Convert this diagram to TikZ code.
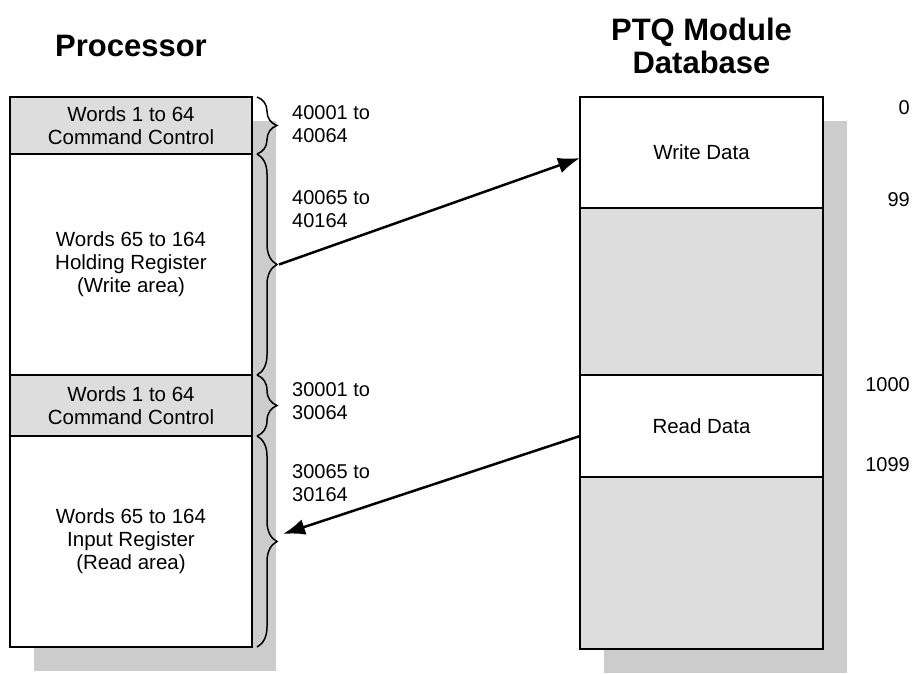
\documentclass[tikz,border=0pt]{standalone}
\usepackage{fontspec}
\setmainfont{Liberation Sans}
\usepackage{tikz}
\usetikzlibrary{positioning, arrows.meta, decorations.pathreplacing, backgrounds}

\definecolor{cellgray}{HTML}{DDDDDD}
\definecolor{shadegray}{HTML}{CCCCCC}

\tikzset{
    cell/.style={rectangle, draw, fill=white, line width=2.5pt, minimum width=242pt, outer sep=0pt, inner sep=0pt, align=center, font=\fontsize{20.5}{23}\selectfont},
    title/.style={align=center, font=\bfseries\fontsize{31}{33}\selectfont},
    addr/.style={align=left, anchor=west, inner sep=0pt, font=\fontsize{20}{23}\selectfont},
    brace/.style={decorate, decoration={brace, amplitude=20pt}, line width=1.5pt},
    link/.style={-{Latex[length=22pt,width=16pt]}, line width=2.5pt}
}

\begin{document}
\begin{tikzpicture}[x=1pt, y=1pt, node distance=0pt]
    \useasboundingbox (0,0) rectangle (915,673);

    % processor side
    \node [cell, fill=cellgray, minimum height=57pt] (cmd1) at (131,547.5) {Words 1 to 64\\Command Control};
    \node [cell, minimum height=221pt, below=of cmd1] (hold) {Words 65 to 164\\Holding Register\\(Write area)};
    \node [cell, fill=cellgray, minimum height=61pt, below=of hold] (cmd2) {Words 1 to 64\\Command Control};
    \node [cell, minimum height=211pt, below=of cmd2] (inp) {Words 65 to 164\\Input Register\\(Read area)};

    % module database side
    \node [cell, minimum width=243pt, minimum height=111pt] (wr) at (701.5,520.5) {Write Data};
    \node [cell, fill=cellgray, minimum width=243pt, minimum height=167pt, below=of wr] (gap1) {};
    \node [cell, minimum width=243pt, minimum height=102pt, below=of gap1] (rd) {Read Data};
    \node [cell, fill=cellgray, minimum width=243pt, minimum height=172pt, below=of rd] (gap2) {};

    \begin{scope}[on background layer]
        \fill [shadegray] ([shift={(24pt,-24pt)}]cmd1.north west) rectangle ([shift={(24pt,-24pt)}]inp.south east);
        \fill [shadegray] ([shift={(24pt,-24pt)}]wr.north west) rectangle ([shift={(24pt,-24pt)}]gap2.south east);
    \end{scope}

    \node [title] (proc) at ([yshift=51pt]cmd1.north) {Processor};
    \node [title] (ptq) at ([yshift=51pt]wr.north) {PTQ Module\\Database};

    % braces and register addresses
    \foreach \c in {cmd1, hold, cmd2, inp}
        \draw [brace] ([xshift=5pt]\c.north east) -- ([xshift=5pt]\c.south east);

    \node [addr] (a1) at ([xshift=40pt,yshift=1.5pt]cmd1.east) {40001 to\\40064};
    \node [addr] (a2) at ([xshift=40pt,yshift=55pt]hold.east) {40065 to\\40164};
    \node [addr] (a3) at ([xshift=40pt,yshift=4pt]cmd2.east) {30001 to\\30064};
    \node [addr] (a4) at ([xshift=40pt,yshift=58pt]inp.east) {30065 to\\30164};

    % database offsets
    \node [addr, anchor=east] (n0) at ([xshift=87pt,yshift=-11pt]wr.north east) {0};
    \node [addr, anchor=east] (n99) at ([xshift=87pt,yshift=8pt]wr.south east) {99};
    \node [addr, anchor=east] (n1000) at ([xshift=87pt,yshift=-10pt]rd.north east) {1000};
    \node [addr, anchor=east] (n1099) at ([xshift=87pt,yshift=12pt]rd.south east) {1099};

    \coordinate (wtip) at ([xshift=27pt]hold.east);
    \coordinate (rtip) at ([xshift=31pt,yshift=7.5pt]inp.east);
    \draw [link] (wtip) -- ([yshift=-5.5pt]wr.west);
    \draw [link] ([yshift=-10pt]rd.west) -- (rtip);
\end{tikzpicture}
\end{document}
